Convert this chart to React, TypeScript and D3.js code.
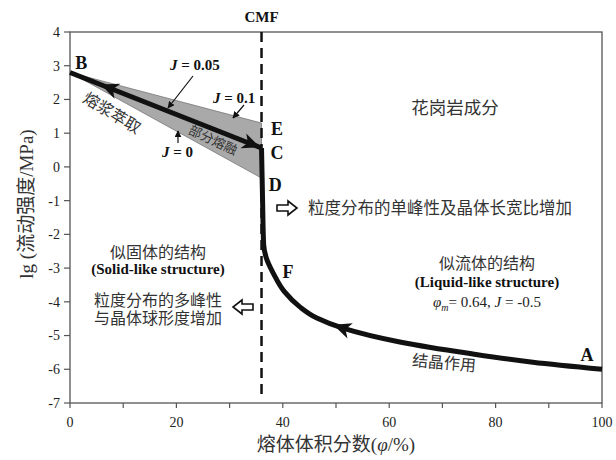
import * as d3 from "d3"
import { useEffect, useRef } from "react"

const W = 616
const H = 460

// axes
const xTicks = d3.range(0, 101, 10)
const xTickLabels = [0, 20, 40, 60, 80, 100]
const yTicks = d3.range(-7, 5)
const cmfX = 36

// grey wedge B - E - D (J = 0.1 ... J = 0)
const wedgeX = [0, 36, 36]
const wedgeY = [2.8, 1.3, -0.33]

// B -> C path (melt extraction / partial melting)
const meltX = [0, 36]
const meltY = [2.8, 0.56]

// C -> F -> A crystallisation curve
const crystX = [36, 36.2, 36.4, 36.9, 38.2, 40.3, 43.2, 46.4, 51.3, 62.0, 74.6, 87.0, 100]
const crystY = [0.56, -1.0, -2.3, -2.7, -3.15, -3.7, -4.15, -4.48, -4.78, -5.19, -5.52, -5.79, -6.0]

// point letters
const pointNames = ["B", "E", "C", "D", "F", "A"]
const pointX = [2.1, 38.9, 38.9, 38.6, 41.0, 97.2]
const pointY = [3.1, 1.13, 0.42, -0.53, -3.12, -5.58]

const SERIF = "'Times New Roman', 'Liberation Serif', 'DejaVu Serif', 'Noto Sans CJK SC', serif"

const App = () => {
  const svgRef = useRef<SVGSVGElement | null>(null)

  useEffect(() => {
    if (!svgRef.current) return
    document.body.style.margin = "0"

    const svg = d3.select(svgRef.current)
    svg.selectAll("*").remove()

    const x = d3.scaleLinear().domain([0, 100]).range([70, 602])
    const y = d3.scaleLinear().domain([-7, 4]).range([403, 32])

    const defs = svg.append("defs")
    defs
      .append("marker")
      .attr("id", "thin-arrow")
      .attr("viewBox", "0 0 10 10")
      .attr("refX", 9)
      .attr("refY", 5)
      .attr("markerWidth", 7)
      .attr("markerHeight", 7)
      .attr("markerUnits", "userSpaceOnUse")
      .attr("orient", "auto")
      .append("path")
      .attr("d", "M0,0 L10,5 L0,10 Z")
      .attr("fill", "#111")

    // frame
    svg
      .append("rect")
      .attr("x", x(0))
      .attr("y", y(4))
      .attr("width", x(100) - x(0))
      .attr("height", y(-7) - y(4))
      .attr("fill", "none")
      .attr("stroke", "#555")
      .attr("stroke-width", 1.3)

    // x axis
    const xAxis = svg.append("g").attr("transform", `translate(0,${y(-7)})`)
    xAxis
      .selectAll("line")
      .data(xTicks)
      .enter()
      .append("line")
      .attr("x1", d => x(d))
      .attr("x2", d => x(d))
      .attr("y1", 0)
      .attr("y2", 5)
      .attr("stroke", "#555")
      .attr("stroke-width", 1.2)
    xAxis
      .selectAll("text")
      .data(xTickLabels)
      .enter()
      .append("text")
      .attr("x", d => x(d))
      .attr("y", 24)
      .attr("text-anchor", "middle")
      .style("font-family", SERIF)
      .style("font-size", "14px")
      .style("fill", "#222")
      .text(d => d)

    // y axis
    const yAxis = svg.append("g").attr("transform", `translate(${x(0)},0)`)
    yAxis
      .selectAll("line")
      .data(yTicks)
      .enter()
      .append("line")
      .attr("x1", -6)
      .attr("x2", 0)
      .attr("y1", d => y(d))
      .attr("y2", d => y(d))
      .attr("stroke", "#555")
      .attr("stroke-width", 1.2)
    yAxis
      .selectAll("text")
      .data(yTicks)
      .enter()
      .append("text")
      .attr("x", -10)
      .attr("y", d => y(d))
      .attr("dy", "0.35em")
      .attr("text-anchor", "end")
      .style("font-family", SERIF)
      .style("font-size", "14px")
      .style("fill", "#222")
      .text(d => d)

    // axis titles
    const xt = svg
      .append("text")
      .attr("x", 336)
      .attr("y", 451)
      .attr("text-anchor", "middle")
      .style("font-family", SERIF)
      .style("font-size", "19px")
      .style("fill", "#333")
    xt.append("tspan").text("熔体体积分数(")
    xt.append("tspan").style("font-style", "italic").text("φ")
    xt.append("tspan").text("/%)")

    svg
      .append("text")
      .attr("transform", "translate(33,204) rotate(-90)")
      .attr("text-anchor", "middle")
      .style("font-family", SERIF)
      .style("font-size", "19px")
      .style("fill", "#333")
      .text("lg (流动强度/MPa)")

    // grey wedge
    const wedgePts = wedgeX.map((d, i) => [x(d), y(wedgeY[i])] as [number, number])
    svg
      .append("path")
      .attr("d", "M" + wedgePts.join("L") + "Z")
      .attr("fill", "#a9a9a9")
      .attr("stroke", "#777")
      .attr("stroke-width", 0.8)

    // CMF dashed line
    svg
      .append("line")
      .attr("x1", x(cmfX))
      .attr("x2", x(cmfX))
      .attr("y1", y(4))
      .attr("y2", y(-6.8))
      .attr("stroke", "#111")
      .attr("stroke-width", 2.5)
      .attr("stroke-dasharray", "10,6")
    svg
      .append("text")
      .attr("x", x(cmfX))
      .attr("y", 22)
      .attr("text-anchor", "middle")
      .style("font-family", SERIF)
      .style("font-size", "15px")
      .style("font-weight", "bold")
      .style("fill", "#111")
      .text("CMF")

    // B -> C
    svg
      .append("path")
      .attr(
        "d",
        d3
          .line<number>()
          .x(d => x(d))
          .y((_d, i) => y(meltY[i]))(meltX)
      )
      .attr("fill", "none")
      .attr("stroke", "#111")
      .attr("stroke-width", 5)

    // C -> A
    const crystPath = svg
      .append("path")
      .attr(
        "d",
        d3
          .line<number>()
          .x(d => x(d))
          .y((_d, i) => y(crystY[i]))
          .curve(d3.curveMonotoneY)(crystX)
      )
      .attr("fill", "none")
      .attr("stroke", "#111")
      .attr("stroke-width", 5)
      .attr("stroke-linejoin", "round")

    // barbed arrowheads along the thick paths
    const arrowHead = (tx: number, ty: number, angle: number) => {
      svg
        .append("path")
        .attr("d", "M3,0 L-15,-8 L-10,0 L-15,8 Z")
        .attr("transform", `translate(${tx},${ty}) rotate(${angle})`)
        .attr("fill", "#111")
    }
    const bcAngle =
      (Math.atan2(y(meltY[1]) - y(meltY[0]), x(meltX[1]) - x(meltX[0])) * 180) / Math.PI
    const bcY = (v: number) => y(d3.interpolateNumber(meltY[0], meltY[1])(v / meltX[1]))
    arrowHead(x(6.3), bcY(6.3), bcAngle + 180)
    arrowHead(x(35.2), bcY(35.2), bcAngle)

    const node = crystPath.node() as SVGPathElement
    const total = node.getTotalLength()
    let best = 0
    for (let l = 0; l < total; l += 0.5) {
      if (node.getPointAtLength(l).x >= 336) {
        best = l
        break
      }
    }
    const p0 = node.getPointAtLength(best)
    const p1 = node.getPointAtLength(best - 3)
    arrowHead(p0.x, p0.y, (Math.atan2(p1.y - p0.y, p1.x - p0.x) * 180) / Math.PI)

    // point letters
    svg
      .selectAll(".pt")
      .data(pointNames)
      .enter()
      .append("text")
      .attr("class", "pt")
      .attr("x", (_d, i) => x(pointX[i]))
      .attr("y", (_d, i) => y(pointY[i]))
      .attr("dy", "0.35em")
      .attr("text-anchor", "middle")
      .style("font-family", SERIF)
      .style("font-size", "18px")
      .style("font-weight", "bold")
      .style("fill", "#111")
      .text(d => d)

    // J labels
    const jLabel = (tx: number, ty: number, val: string) => {
      const t = svg
        .append("text")
        .attr("x", tx)
        .attr("y", ty)
        .style("font-family", SERIF)
        .style("font-size", "15px")
        .style("font-weight", "bold")
        .style("fill", "#111")
      t.append("tspan").style("font-style", "italic").text("J")
      t.append("tspan").text(" = " + val)
    }
    jLabel(170, 70, "0.05")
    jLabel(213, 103, "0.1")
    jLabel(162, 157, "0")

    const thinArrow = (x1: number, y1: number, x2: number, y2: number) => {
      svg
        .append("line")
        .attr("x1", x1)
        .attr("y1", y1)
        .attr("x2", x2)
        .attr("y2", y2)
        .attr("stroke", "#111")
        .attr("stroke-width", 1.2)
        .attr("marker-end", "url(#thin-arrow)")
    }
    thinArrow(193, 76, 168, 108)
    thinArrow(244, 105, 233, 118)
    thinArrow(178, 143, 178, 131)

    // rotated process labels
    const rotText = (
      tx: number,
      ty: number,
      angle: number,
      size: number,
      fill: string,
      txt: string
    ) => {
      svg
        .append("text")
        .attr("transform", `translate(${tx},${ty}) rotate(${angle})`)
        .attr("text-anchor", "middle")
        .attr("dy", "0.35em")
        .style("font-family", SERIF)
        .style("font-size", size + "px")
        .style("fill", fill)
        .text(txt)
    }
    rotText(112, 113, 31, 16, "#333", "熔浆萃取")
    rotText(213, 140, 25, 13, "#333", "部分熔融")
    rotText(444, 363, 5, 16, "#333", "结晶作用")

    // plain text blocks
    const label = (
      tx: number,
      ty: number,
      txt: string,
      size: number,
      anchor = "middle",
      bold = false
    ) => {
      svg
        .append("text")
        .attr("x", tx)
        .attr("y", ty)
        .attr("dy", "0.35em")
        .attr("text-anchor", anchor)
        .style("font-family", SERIF)
        .style("font-size", size + "px")
        .style("font-weight", bold ? "bold" : "normal")
        .style("fill", bold ? "#111" : "#333")
        .text(txt)
    }
    label(455, 108, "花岗岩成分", 17.5)
    label(308, 208, "粒度分布的单峰性及晶体长宽比增加", 16.5, "start")
    label(158, 252, "似固体的结构", 16)
    label(158, 269, "(Solid-like structure)", 15, "middle", true)
    label(158, 300, "粒度分布的多峰性", 16)
    label(158, 318, "与晶体球形度增加", 16)
    label(487, 263, "似流体的结构", 16)
    label(487, 282, "(Liquid-like structure)", 15, "middle", true)

    const phi = svg
      .append("text")
      .attr("x", 487)
      .attr("y", 302)
      .attr("dy", "0.35em")
      .attr("text-anchor", "middle")
      .style("font-family", SERIF)
      .style("font-size", "15px")
      .style("fill", "#222")
    phi.append("tspan").style("font-style", "italic").text("φ")
    phi
      .append("tspan")
      .style("font-style", "italic")
      .style("font-size", "10px")
      .attr("dy", "4")
      .text("m")
    phi.append("tspan").attr("dy", "-4").text("= 0.64, ")
    phi.append("tspan").style("font-style", "italic").text("J")
    phi.append("tspan").text(" = -0.5")

    // hollow block arrows
    const blockArrow = (cx: number, cy: number, dir: number) => {
      svg
        .append("path")
        .attr("d", "M-10,-3 L1,-3 L1,-7 L10,0 L1,7 L1,3 L-10,3 Z")
        .attr("transform", `translate(${cx},${cy}) scale(${dir},1)`)
        .attr("fill", "white")
        .attr("stroke", "#111")
        .attr("stroke-width", 1.6)
    }
    blockArrow(287, 208, 1)
    blockArrow(243, 307, -1)
  }, [])

  return (
    <div style={{ width: W, height: H }}>
      <svg ref={svgRef} width={W} height={H} style={{ display: "block", background: "white" }} />
    </div>
  )
}

export default App
